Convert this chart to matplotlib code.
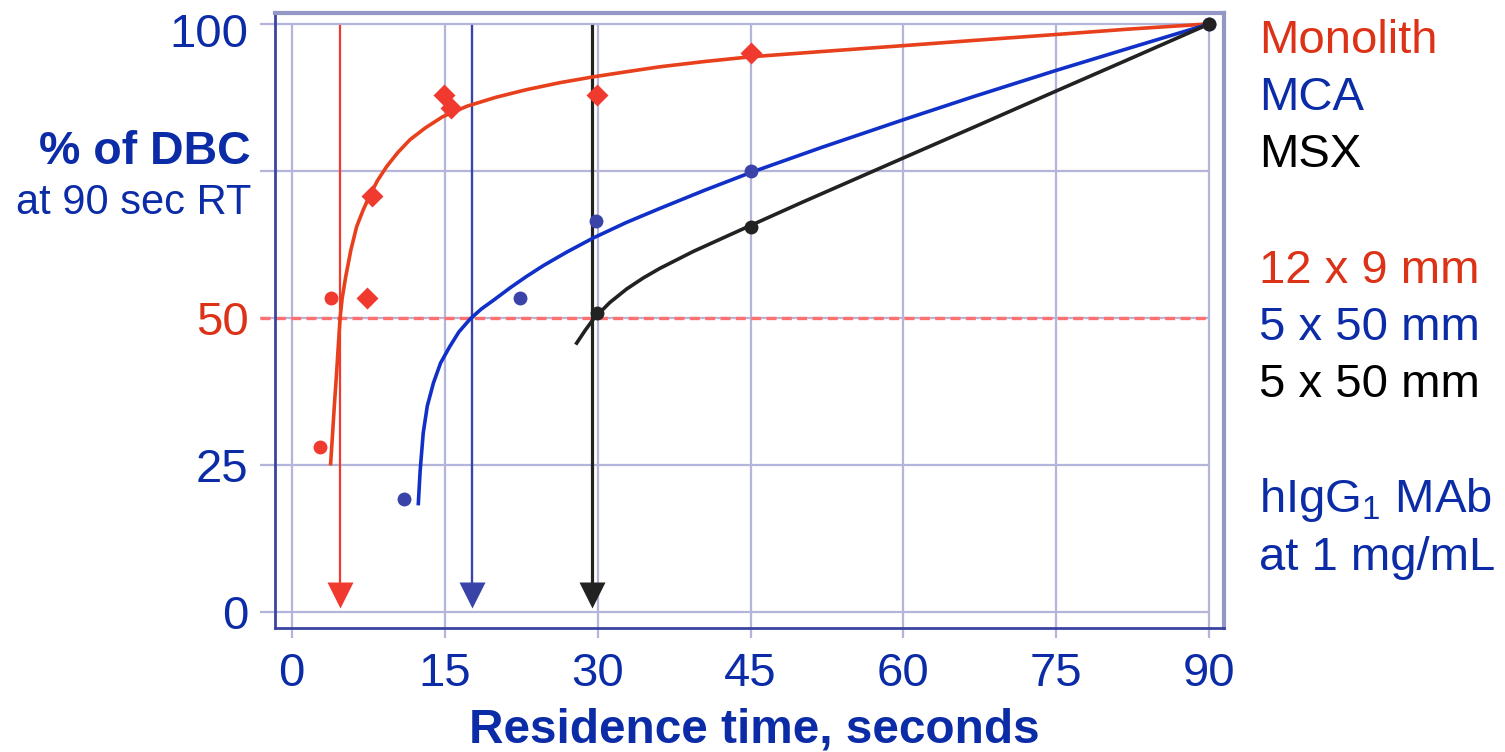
import numpy as np
import matplotlib.pyplot as plt
from matplotlib.transforms import ScaledTranslation

plt.rcParams['font.family'] = ['Liberation Sans', 'DejaVu Sans']
plt.rcParams['mathtext.fontset'] = 'custom'
plt.rcParams['mathtext.rm'] = 'Liberation Sans'

# ---------------------------------------------------------------- data
x_ticks = [0, 15, 30, 45, 60, 75, 90]
y_ticks = [0, 25, 50, 75, 100]
y_labels = ['0', '25', '50', '', '100']

# Monolith (12 x 9 mm)
mono_dot_x = [2.8, 3.85]
mono_dot_y = [28.1, 53.3]
mono_dia_x = [7.4, 7.9, 14.9, 15.6, 29.9, 45.0]
mono_dia_y = [53.3, 70.7, 87.9, 85.7, 87.9, 95.0]
mono_fit_x = [3.82, 4.0, 4.2, 4.4, 4.6, 4.75, 4.95, 5.3, 5.8, 6.37, 7.0,
              7.6, 8.4, 9.3, 10.4, 11.6, 13.1, 14.8, 17.2, 20.0, 23.0, 26.3,
              29.6, 33.0, 36.1, 40.5, 45.0, 52.0, 60.0, 67.0, 75.0, 82.0, 90.0]
mono_fit_y = [25.2, 30.0, 35.5, 40.5, 46.0, 50.0, 53.3, 57.0, 61.5, 65.5, 68.3,
              70.6, 73.3, 75.7, 78.1, 80.3, 82.3, 84.2, 86.0, 87.5, 88.8, 90.0,
              91.0, 91.9, 92.7, 93.6, 94.4, 95.3, 96.3, 97.2, 98.2, 99.1, 100.0]

# MCA (5 x 50 mm)
mca_x = [11.0, 22.4, 29.85, 45.0, 90.0]
mca_y = [19.1, 53.4, 66.4, 74.9, 100.0]
mca_fit_x = [12.42, 12.6, 12.9, 13.3, 13.9, 14.6, 15.5, 16.4, 17.5, 18.6,
             19.8, 21.5, 23.0, 24.7, 27.0, 29.6, 32.8, 36.1, 40.5, 45.0,
             52.0, 60.0, 67.0, 75.0, 82.0, 90.0]
mca_fit_y = [18.4, 24.0, 30.4, 35.0, 38.9, 42.3, 45.1, 47.6, 49.8, 51.5,
             53.0, 55.2, 57.0, 58.9, 61.2, 63.6, 66.2, 68.6, 71.7, 74.7,
             79.0, 83.7, 87.7, 92.1, 95.8, 100.0]

# MSX (5 x 50 mm)
msx_x = [29.9, 45.0, 90.0]
msx_y = [50.9, 65.5, 100.0]
msx_fit_x = [27.95, 28.8, 29.6, 31.2, 32.85, 34.5, 36.1, 39.4, 42.7, 45.0,
             50.0, 55.0, 60.0, 67.0, 75.0, 82.0, 90.0]
msx_fit_y = [45.7, 47.9, 49.8, 52.6, 54.9, 56.8, 58.4, 61.3, 63.9, 65.7,
             69.6, 73.4, 77.2, 82.5, 88.6, 93.9, 100.0]

# residence time at 50 % DBC
arrow_x = [4.74, 17.7, 29.5]

BLUE = '#0b2ca6'
RED = '#dc3218'
c_red = '#f03a30'
c_blue = '#3a44a8'
c_black = '#222222'

# ---------------------------------------------------------------- figure
fig = plt.figure(figsize=(15.05, 7.52), dpi=100)
ax = fig.add_axes([0.1827, 0.1645, 0.6306, 0.8178])
ax.set_xlim(-1.64, 91.44)
ax.set_ylim(-2.82, 101.8)

grid_c = '#b3b6da'
ax.hlines(y_ticks, -3.1, 90, color=grid_c, lw=1.6, clip_on=False, zorder=0)
ax.vlines(x_ticks, -4.5, 100, color=grid_c, lw=1.6, clip_on=False, zorder=0)
ax.plot([-3.1, 90], [50, 50], ls=(0, (3.0, 1.6)), color='#ff7070', lw=2.4,
        clip_on=False, zorder=1)

for s in ['left', 'bottom']:
    ax.spines[s].set_color('#3a44a0')
    ax.spines[s].set_linewidth(2.0)
for s in ['top', 'right']:
    ax.spines[s].set_color('#9297c6')
    ax.spines[s].set_linewidth(3.0)

ax.set_xticks(x_ticks, [str(v) for v in x_ticks])
ax.set_yticks(y_ticks, y_labels)
ax.tick_params(length=0, labelsize=34, labelcolor=BLUE)
ax.tick_params(axis='x', pad=17)
ax.tick_params(axis='y', pad=19)
ylabs = ax.get_yticklabels()
ylabs[2].set_color(RED)
ylabs[4].set_transform(ylabs[4].get_transform() +
                       ScaledTranslation(0, -0.06, fig.dpi_scale_trans))

# arrows
for xa, col, lw in zip(arrow_x, [c_red, c_blue, c_black], [1.6, 1.7, 2.3]):
    ax.plot([xa, xa], [99.6, 4], color=col, lw=lw, zorder=2)
    ax.plot([xa], [2.8], marker='v', ms=19, color=col, mec='none', zorder=2)

# fits
ax.plot(mono_fit_x, mono_fit_y, color='#e8401c', lw=2.6, zorder=3,
        solid_joinstyle='round')
ax.plot(mca_fit_x, mca_fit_y, color='#1030c8', lw=2.6, zorder=3,
        solid_joinstyle='round')
ax.plot(msx_fit_x, msx_fit_y, color=c_black, lw=2.6, zorder=3,
        solid_joinstyle='round')

# points
ax.plot(mono_dia_x, mono_dia_y, 'D', ms=11.5, color=c_red, mec='none', zorder=4)
ax.plot(mono_dot_x, mono_dot_y, 'o', ms=10, color=c_red, mec='none', zorder=4)
ax.plot(mca_x, mca_y, 'o', ms=10, color=c_blue, mec='none', zorder=4)
ax.plot(msx_x, msx_y, 'o', ms=10, color=c_black, mec='none', zorder=4)

# ---------------------------------------------------------------- texts
H = 752.0
fig.text(251 / 1505, 1 - 164 / H, '% of DBC', ha='right', va='baseline',
         fontsize=33.5, fontweight='bold', color=BLUE)
fig.text(251 / 1505, 1 - 214 / H, 'at 90 sec RT', ha='right', va='baseline',
         fontsize=30, color=BLUE)
fig.text(754 / 1505, 1 - 743 / H, 'Residence time, seconds', ha='center',
         va='baseline', fontsize=34.4, fontweight='bold', color=BLUE)

right = [('Monolith', RED, 52.7), ('MCA', BLUE, 110), ('MSX', 'black', 166.7),
         ('12 x 9 mm', RED, 282.7), ('5 x 50 mm', BLUE, 340),
         ('5 x 50 mm', 'black', 396.7),
         ('hIgG$_{\\mathregular{1}}$ MAb', BLUE, 511.7),
         ('at 1 mg/mL', BLUE, 570)]
for txt, col, base in right:
    fig.text(1259 / 1505, 1 - base / H, txt, ha='left', va='baseline',
             fontsize=34, color=col)

fig.savefig('out.png', dpi=100)
